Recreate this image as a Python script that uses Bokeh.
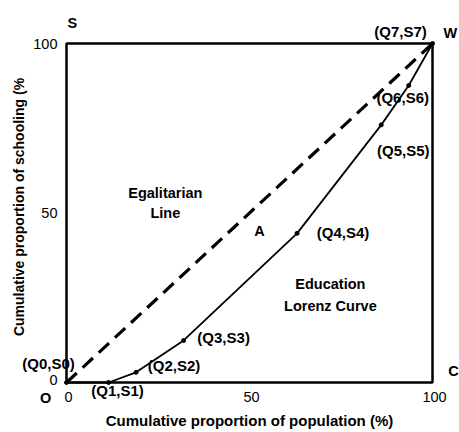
import math
from bokeh.plotting import figure
from bokeh.models import Range1d, Label, ColumnDataSource
from bokeh.core.properties import value
from bokeh.embed import file_html
from bokeh.resources import INLINE

# Data
population = [0, 11.5, 19, 32, 63, 86, 93.5, 100]
schooling = [0, 0, 3, 12.4, 44, 76, 87.6, 100]
point_names = ["(Q0,S0)", "(Q1,S1)", "(Q2,S2)", "(Q3,S3)", "(Q4,S4)", "(Q5,S5)", "(Q6,S6)", "(Q7,S7)"]
egal_x = [0, 100]
egal_y = [0, 100]
ticks = [0, 50, 100]
tick_labels = ["0", "50", "100"]
x_title = "Cumulative proportion of population (%)"
y_title = "Cumulative proportion of schooling (%"

# ---- layout (pixels) ----
W, H = 459, 432
FRAME_L, FRAME_R = 66, 432      # canvas px of x=0 and x=100
FRAME_B, FRAME_T = 382, 43      # canvas px of y=0 and y=100
sx = (FRAME_R - FRAME_L) / 100.0
sy = (FRAME_B - FRAME_T) / 100.0
x_lo = -FRAME_L / sx
x_hi = (W - FRAME_L) / sx
y_lo = -(H - FRAME_B) / sy
y_hi = FRAME_B / sy

# label offsets (screen px, dx right, dy down)
name_offsets = [(-18, -19), (9, 8), (38, -7), (40, -3), (46, -1), (22, 26), (-6, 12), (-32, -12)]

FONT = "Liberation Sans"

p = figure(width=W, height=H, x_range=Range1d(x_lo, x_hi), y_range=Range1d(y_lo, y_hi),
           output_backend="svg", toolbar_location=None,
           min_border_left=0, min_border_right=0, min_border_top=0, min_border_bottom=0)
p.grid.visible = False
p.axis.visible = False
p.outline_line_color = None
p.background_fill_color = "white"
p.border_fill_color = "white"

# frame box
p.quad(left=[0], right=[100], bottom=[0], top=[100], fill_color=None,
       line_color="black", line_width=2.5)

# tick labels
p.text(x=ticks, y=[0] * len(ticks), text=tick_labels, x_offset=2, y_offset=9,
       text_align="center", text_baseline="top", text_font=value(FONT),
       text_font_size="14.5px", text_color="black")
p.text(x=[0] * len(ticks), y=ticks, text=tick_labels, x_offset=-9, y_offset=[-3, 0, 0],
       text_align="right", text_baseline="middle", text_font=value(FONT),
       text_font_size="14.5px", text_color="black")

# axis titles
p.text(x=[50], y=[0], text=[x_title], y_offset=38, text_align="center",
       text_baseline="middle", text_font=value(FONT), text_font_style="bold",
       text_font_size="15px", text_color="black")
p.text(x=[0], y=[50], text=[y_title], x_offset=-48, y_offset=-6, angle=math.pi / 2,
       text_align="center", text_baseline="middle", text_font=value(FONT),
       text_font_style="bold", text_font_size="14px", text_color="black")

# Egalitarian line
p.line(egal_x, egal_y, line_color="black", line_width=3.2, line_dash="14 8")
# Lorenz curve
p.line(population, schooling, line_color="black", line_width=1.8)
p.scatter(population, schooling, size=4, color="black")

src = ColumnDataSource(dict(x=population, y=schooling, t=point_names,
                            dx=[o[0] for o in name_offsets], dy=[o[1] for o in name_offsets]))
p.text(x="x", y="y", text="t", x_offset="dx", y_offset="dy", source=src,
       text_align="center", text_baseline="middle", text_font=value(FONT),
       text_font_style="bold", text_font_size="15px", text_color="black")

extra = [("S", 1.6, 105.9), ("W", 104.9, 103.2), ("O", -5.7, -4.7),
         ("C", 105.7, 3.5), ("A", 52.7, 44.8),
         ("Egalitarian", 27, 56), ("Line", 27, 50.1),
         ("Education", 72.1, 29.2), ("Lorenz Curve", 72.1, 22.7)]
for t, x, y in extra:
    p.add_layout(Label(x=x, y=y, text=t, text_align="center", text_baseline="middle",
                       text_font=FONT, text_font_style="bold", text_font_size="14.5px",
                       text_color="black"))

open("out.html", "w").write(file_html(p, INLINE))
